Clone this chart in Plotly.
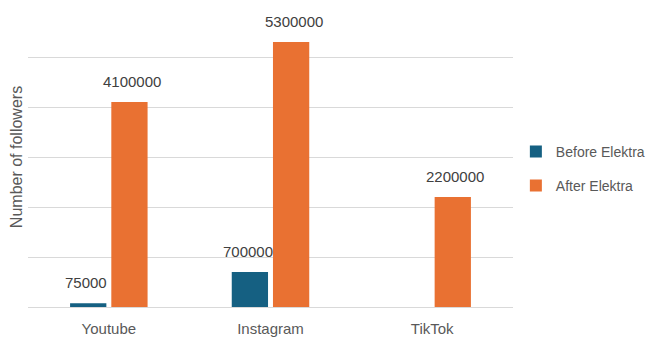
import plotly.graph_objects as go

categories = ["Youtube", "Instagram", "TikTok"]
before_elektra = [75000, 700000, 0]
after_elektra = [4100000, 5300000, 2200000]
series_names = ["Before Elektra", "After Elektra"]
colors = ["#156082", "#E97132"]

FONT = "Liberation Sans, Arial, sans-serif"
TEXT_COLOR = "#595959"

fig = go.Figure()
for name, vals, col, grp in zip(series_names, [before_elektra, after_elektra], colors, ["a", "b"]):
    fig.add_trace(go.Bar(
        name=name, x=categories, y=vals, marker_color=col,
        marker_line_width=0, legendgroup=grp,
    ))

# data labels above bars
for vals, shift in [(before_elektra, -23), (after_elektra, 23)]:
    for c, v in zip(categories, vals):
        if v == 0:
            continue
        fig.add_annotation(
            x=c, y=v, xref="x", yref="y", text=str(v), showarrow=False,
            xshift=shift, yshift=10, yanchor="bottom",
            font=dict(family=FONT, size=15, color="#404040"),
        )

fig.update_layout(
    width=653, height=341,
    margin=dict(l=28, r=140, t=7, b=34, autoexpand=False),
    paper_bgcolor="white", plot_bgcolor="white",
    barmode="group", bargap=0.49, bargroupgap=0.12,
    font=dict(family=FONT, size=15, color=TEXT_COLOR),
    legend=dict(
        xref="container", yref="container",
        x=0.790, y=0.505, xanchor="left", yanchor="middle",
        traceorder="grouped", tracegroupgap=13,
        font=dict(family=FONT, size=14, color=TEXT_COLOR),
        itemwidth=30,
    ),
    xaxis=dict(
        showgrid=False, showline=True, linecolor="#d9d9d9", linewidth=1,
        ticks="", ticklabelstandoff=8,
        tickfont=dict(family=FONT, size=15, color=TEXT_COLOR),
    ),
    yaxis=dict(
        range=[0, 6000000], dtick=1000000, showticklabels=False,
        showgrid=True, gridcolor="#d9d9d9", gridwidth=1,
        zeroline=False, showline=False, ticks="",
        title=dict(text="Number of followers", standoff=0,
                   font=dict(family=FONT, size=16, color=TEXT_COLOR)),
    ),
)

fig.write_html("out.html")
